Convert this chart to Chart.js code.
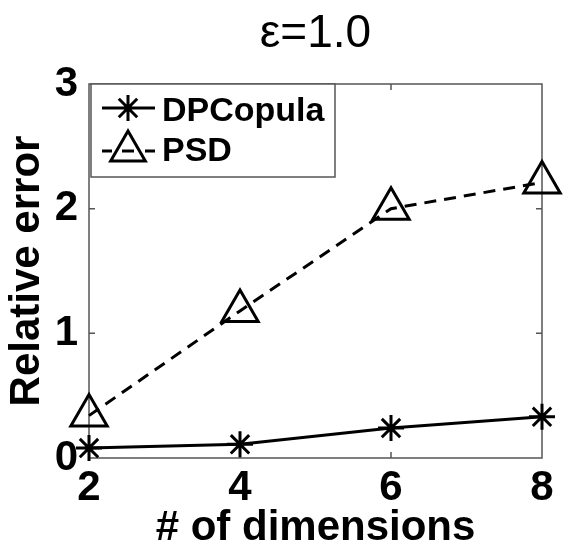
<!DOCTYPE html>
<html>
<head>
<meta charset="utf-8">
<title>Relative error vs # of dimensions</title>
<script src="https://cdn.jsdelivr.net/npm/chart.js@4.4.1/dist/chart.umd.min.js"></script>
<style>
  html, body { margin: 0; padding: 0; background: #fff; }
  #chart { display: block; }
</style>
</head>
<body>
<canvas id="chart" width="566" height="550"></canvas>
<script>
// === values ===
const dims = [2, 4, 6, 8];
const dpCopula = [0.08, 0.11, 0.24, 0.33];
const psd = [0.34, 1.18, 2.0, 2.21];
const xTicks = [2, 4, 6, 8];
const yTicks = [0, 1, 2, 3];
const seriesNames = ['DPCopula', 'PSD'];
const chartTitle = 'ε=1.0';
const xLabel = '# of dimensions';
const yLabel = 'Relative error';

const FONT = "'Liberation Sans', Arial, Helvetica, sans-serif";

function toPoints(ys) {
  return dims.map((d, i) => ({ x: d, y: ys[i] }));
}

// matlab style box with small inward ticks
const framePlugin = {
  id: 'frame',
  beforeDatasetsDraw(chart) {
    const { ctx, chartArea: ca, scales } = chart;
    ctx.save();
    ctx.strokeStyle = '#555';
    ctx.lineWidth = 1.5;
    ctx.strokeRect(ca.left, ca.top, ca.right - ca.left, ca.bottom - ca.top);
    const len = 6;
    ctx.beginPath();
    xTicks.slice(1, -1).forEach(v => {
      const px = scales.x.getPixelForValue(v);
      ctx.moveTo(px, ca.bottom); ctx.lineTo(px, ca.bottom - len);
      ctx.moveTo(px, ca.top); ctx.lineTo(px, ca.top + len);
    });
    yTicks.slice(1, -1).forEach(v => {
      const py = scales.y.getPixelForValue(v);
      ctx.moveTo(ca.left, py); ctx.lineTo(ca.left + len, py);
      ctx.moveTo(ca.right, py); ctx.lineTo(ca.right - len, py);
    });
    ctx.stroke();
    ctx.restore();
  }
};

const titlePlugin = {
  id: 'axTitle',
  afterDraw(chart) {
    const { ctx, chartArea: ca } = chart;
    ctx.save();
    ctx.fillStyle = '#000';
    ctx.font = '46px ' + FONT;
    ctx.textAlign = 'center';
    ctx.textBaseline = 'middle';
    ctx.fillText(chartTitle, (ca.left + ca.right) / 2, 34);
    ctx.restore();
  }
};

// legend sits inside the axes, top-left
const legendPlugin = {
  id: 'boxLegend',
  afterDraw(chart) {
    const { ctx, chartArea: ca } = chart;
    const left = ca.left + 2, top = ca.top, right = 335, bottom = 177;
    ctx.save();
    ctx.fillStyle = '#fff';
    ctx.fillRect(left, top, right - left, bottom - top);
    ctx.strokeStyle = '#555';
    ctx.lineWidth = 1.5;
    ctx.strokeRect(left, top, right - left, bottom - top);

    ctx.strokeStyle = '#000';
    ctx.lineWidth = 3;
    // row 1: solid line with asterisk
    let y = 108, cx = 128, r = 13;
    ctx.beginPath();
    ctx.moveTo(102, y); ctx.lineTo(155, y);
    ctx.moveTo(cx, y - r); ctx.lineTo(cx, y + r);
    const d = r * Math.SQRT1_2;
    ctx.moveTo(cx - d, y - d); ctx.lineTo(cx + d, y + d);
    ctx.moveTo(cx - d, y + d); ctx.lineTo(cx + d, y - d);
    ctx.stroke();

    // row 2: dashed line with triangle
    y = 151; r = 20;
    ctx.beginPath();
    ctx.moveTo(102, y); ctx.lineTo(112, y);
    ctx.moveTo(122, y); ctx.lineTo(134, y);
    ctx.moveTo(145, y); ctx.lineTo(155, y);
    ctx.stroke();
    ctx.beginPath();
    ctx.moveTo(cx, y - r);
    ctx.lineTo(cx + r * Math.sin(2 * Math.PI / 3), y + r / 2);
    ctx.lineTo(cx - r * Math.sin(2 * Math.PI / 3), y + r / 2);
    ctx.closePath();
    ctx.stroke();

    ctx.fillStyle = '#000';
    ctx.font = 'bold 34px ' + FONT;
    ctx.textAlign = 'left';
    ctx.textBaseline = 'middle';
    ctx.fillText(seriesNames[0], 162, 112);
    ctx.fillText(seriesNames[1], 162, 152);
    ctx.restore();
  }
};

const tickFont = { family: FONT, size: 42, weight: 'bold' };

new Chart(document.getElementById('chart'), {
  type: 'line',
  data: {
    datasets: [
      {
        label: seriesNames[0],
        data: toPoints(dpCopula),
        borderColor: '#000',
        borderWidth: 3,
        pointStyle: 'star',
        pointRadius: 13,
        pointBorderWidth: 3,
        pointBorderColor: '#000',
        pointBackgroundColor: 'rgba(0,0,0,0)',
        tension: 0,
        clip: false
      },
      {
        label: seriesNames[1],
        data: toPoints(psd),
        borderColor: '#000',
        borderWidth: 3,
        borderDash: [12, 8],
        pointStyle: 'triangle',
        pointRadius: 21,
        pointBorderWidth: 3,
        pointBorderColor: '#000',
        pointBackgroundColor: 'rgba(0,0,0,0)',
        tension: 0,
        clip: false
      }
    ]
  },
  options: {
    responsive: false,
    animation: false,
    layout: { padding: { top: 84, right: 18, left: 0, bottom: 0 } },
    plugins: {
      legend: { display: false },
      tooltip: { enabled: false }
    },
    scales: {
      x: {
        type: 'linear',
        min: 2,
        max: 8,
        afterBuildTicks: s => { s.ticks = xTicks.map(v => ({ value: v })); },
        afterFit: s => { s.height = 92; s.paddingLeft = 0; s.paddingRight = 0; },
        grid: { display: false, drawTicks: false },
        border: { display: false },
        ticks: { color: '#000', font: tickFont, padding: 5, maxRotation: 0 },
        title: {
          display: true,
          text: xLabel,
          color: '#000',
          font: { family: FONT, size: 42, weight: 'bold', lineHeight: 1 },
          padding: { top: 0, bottom: 1 }
        }
      },
      y: {
        type: 'linear',
        min: 0,
        max: 3,
        afterBuildTicks: s => { s.ticks = yTicks.map(v => ({ value: v })); },
        afterFit: s => { s.width = 89; s.paddingTop = 0; s.paddingBottom = 0; },
        grid: { display: false, drawTicks: false },
        border: { display: false },
        ticks: { color: '#000', font: tickFont, padding: 11 },
        title: {
          display: true,
          text: yLabel,
          color: '#000',
          font: { family: FONT, size: 42, weight: 'bold', lineHeight: 1 },
          padding: { top: 6, bottom: 0 }
        }
      }
    }
  },
  plugins: [framePlugin, titlePlugin, legendPlugin]
});
</script>
</body>
</html>
